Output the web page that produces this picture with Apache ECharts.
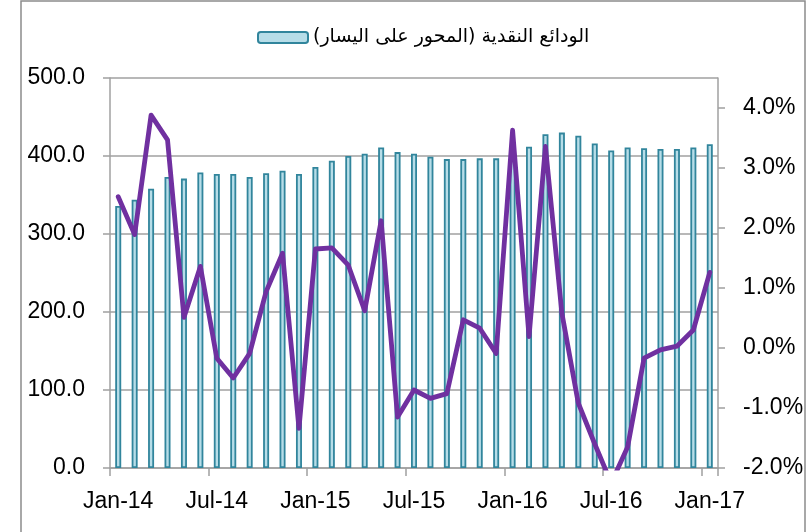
<!DOCTYPE html>
<html lang="ar">
<head>
<meta charset="UTF-8">
<title>الودائع النقدية</title>
<script src="https://cdn.jsdelivr.net/npm/echarts@6/dist/echarts.min.js"></script>
<style>
    html, body { margin: 0; padding: 0; background: #fff; }
    #chart { width: 812px; height: 532px; }
</style>
</head>
<body>
<div id="chart"></div>
<script>
    // months Jan-14 .. Jan-17
    var months = ['Jan-14', 'Feb-14', 'Mar-14', 'Apr-14', 'May-14', 'Jun-14', 'Jul-14', 'Aug-14', 'Sep-14', 'Oct-14', 'Nov-14', 'Dec-14',
        'Jan-15', 'Feb-15', 'Mar-15', 'Apr-15', 'May-15', 'Jun-15', 'Jul-15', 'Aug-15', 'Sep-15', 'Oct-15', 'Nov-15', 'Dec-15',
        'Jan-16', 'Feb-16', 'Mar-16', 'Apr-16', 'May-16', 'Jun-16', 'Jul-16', 'Aug-16', 'Sep-16', 'Oct-16', 'Nov-16', 'Dec-16',
        'Jan-17'];
    // الودائع النقدية (left axis)
    var deposits = [336, 344, 358, 373, 371, 379, 377, 377, 373, 378, 381, 377,
        386, 394, 400, 403, 411, 405, 403, 399, 396, 396, 397, 397,
        399, 412, 428, 430, 426, 416, 407, 411, 410, 409, 409, 411,
        415];
    // monthly change in % (right axis)
    var growth = [2.52, 1.89, 3.88, 3.47, 0.51, 1.36, -0.17, -0.50, -0.09, 0.94, 1.58, -1.34,
        1.65, 1.67, 1.38, 0.62, 2.12, -1.15, -0.70, -0.84, -0.76, 0.47, 0.33, -0.09,
        3.63, 0.19, 3.36, 0.58, -0.92, -1.60, -2.25, -1.65, -0.17, -0.03, 0.03, 0.30,
        1.26];
    // right axis ticks (axis itself runs up to 4.5 so the plot tops align)
    var rightTicks = [-2, -1, 0, 1, 2, 3, 4];
    var barName = '\u200Fالودائع النقدية (المحور على اليسار)\u200F';

    var axisGray = '#a0a0a0';
    var font = 'Liberation Sans';

    var chart = echarts.init(document.getElementById('chart'));
    var option = {
        animation: false,
        backgroundColor: '#fff',
        textStyle: { fontFamily: font },
        graphic: [{
            type: 'rect',
            shape: { x: 21, y: 1, width: 784, height: 560 },
            style: { fill: 'none', stroke: '#8c8c8c', lineWidth: 1.5 },
            silent: true
        }],
        legend: {
            data: [barName],
            left: 252,
            top: 23,
            itemWidth: 50,
            itemHeight: 11,
            itemGap: 10,
            textStyle: { fontFamily: 'DejaVu Sans', fontSize: 19, color: '#000' }
        },
        grid: { left: 110, right: 94, top: 78, bottom: 64, containLabel: false },
        xAxis: {
            type: 'category',
            data: months,
            boundaryGap: true,
            axisLine: { lineStyle: { color: axisGray, width: 1.5 } },
            axisTick: { show: true, interval: 5, length: 8, alignWithLabel: false, lineStyle: { color: axisGray, width: 1.5 } },
            axisLabel: { interval: 5, margin: 22, fontSize: 23, color: '#000', fontFamily: font }
        },
        yAxis: [{
            type: 'value',
            min: 0, max: 500, interval: 100,
            axisLine: { show: true, lineStyle: { color: axisGray, width: 1.5 } },
            axisTick: { show: true, length: 7, lineStyle: { color: axisGray, width: 1.5 } },
            splitLine: { show: true, lineStyle: { color: axisGray, width: 1.5 } },
            axisLabel: {
                margin: 25, fontSize: 23, color: '#000', fontFamily: font,
                formatter: function (v) { return v.toFixed(1); }
            }
        }, {
            type: 'value',
            position: 'right',
            min: -2, max: 4.5, interval: 1,
            axisLine: { show: true, lineStyle: { color: axisGray, width: 1.5 } },
            axisTick: { show: true, length: 7, customValues: rightTicks, lineStyle: { color: axisGray, width: 1.5 } },
            splitLine: { show: false },
            axisLabel: {
                margin: 25, fontSize: 23, color: '#000', fontFamily: font,
                customValues: rightTicks,
                formatter: function (v) { return v.toFixed(1) + '%'; }
            }
        }],
        series: [{
            name: barName,
            type: 'bar',
            yAxisIndex: 0,
            data: deposits,
            barWidth: 6,
            itemStyle: { color: '#b7dde8', borderColor: '#31859c', borderWidth: 1.8 }
        }, {
            name: 'growth',
            type: 'line',
            yAxisIndex: 1,
            data: growth,
            symbol: 'none',
            clip: true,
            lineStyle: { color: '#7030a0', width: 4.8, join: 'round', cap: 'round' },
            z: 3
        }]
    };
    chart.setOption(option);
</script>
</body>
</html>
